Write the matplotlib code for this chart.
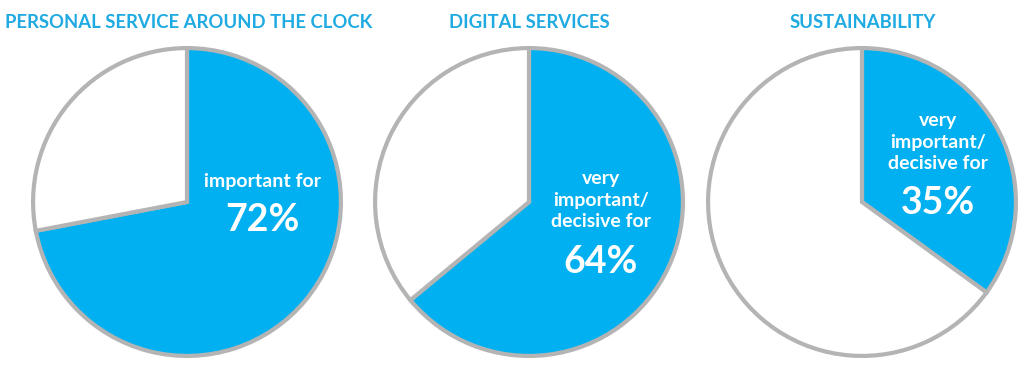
import matplotlib
matplotlib.use("Agg")
import matplotlib.pyplot as plt

titles = ["PERSONAL SERVICE AROUND THE CLOCK", "DIGITAL SERVICES", "SUSTAINABILITY"]
shares = [72, 64, 35]
captions = ["important for", "very\nimportant/\ndecisive for", "very\nimportant/\ndecisive for"]

W, H = 1024, 371
BLUE = "#00B0F0"
GRAY = "#B4B4B4"
TITLE_C = "#1FAAE2"
FONT = "Lato"

fig = plt.figure(figsize=(W / 100, H / 100), dpi=100)

def fx(x):
    return x / W

def fy(y):
    return 1 - y / H

centers = [(187, 202), (529, 202), (862, 202)]
title_x = [189, 529, 863]
R = 157
title_y = 22
# caption anchor: (x center, y of last caption line), percent center y
cap_pos = [(262, 180, 217), (601, 220, 259), (938, 162, 200)]

for i in range(3):
    cx, cy = centers[i]
    ax = fig.add_axes([fx(cx - R), fy(cy + R), 2 * R / W, 2 * R / H])
    ax.pie([shares[i], 100 - shares[i]], colors=[BLUE, "white"], startangle=90,
           counterclock=False,
           wedgeprops=dict(edgecolor=GRAY, linewidth=3.0, joinstyle="miter"))
    ax.set_xlim(-1.02, 1.02)
    ax.set_ylim(-1.02, 1.02)
    ax.set_aspect("equal")
    ax.axis("off")

    fig.text(fx(title_x[i]), fy(title_y), titles[i], ha="center", va="center",
             color=TITLE_C, fontsize=13.3, fontweight="bold", family=FONT)

    tx, ly, py = cap_pos[i]
    fig.text(fx(tx), fy(ly + 7), captions[i], ha="center", va="baseline",
             color="white", fontsize=14, fontweight="bold", family=FONT,
             linespacing=1.32, multialignment="center")
    fig.text(fx(tx), fy(py), f"{shares[i]}%", ha="center", va="center_baseline",
             color="white", fontsize=27, fontweight="bold", family=FONT)

fig.savefig("out.png", dpi=100)
